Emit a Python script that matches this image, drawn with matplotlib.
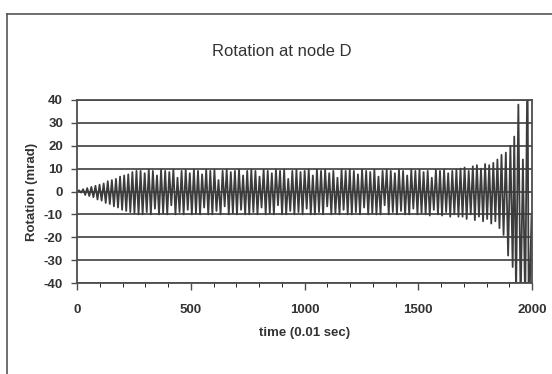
import numpy as np
import matplotlib
matplotlib.use("Agg")
import matplotlib.pyplot as plt
from matplotlib.lines import Line2D

plt.rcParams['font.family'] = ['Liberation Sans', 'DejaVu Sans']
plt.rcParams['axes.unicode_minus'] = False

# positive peaks per cycle (mrad)
top_peaks = [0.5, 1, 1.5, 2, 2.5, 3, 3.5, 4.5, 5, 5.5, 6.5, 7, 7.5, 8.5, 9,
             9, 8, 9.5, 9, 7, 9.5, 9, 8.5, 9.5, 6, 9, 9.5, 8,
             9.5, 9, 7.5, 9.5, 9, 9.5, 5, 9, 9.5, 8.5, 9, 9.5, 7,
             9, 9.5, 9, 6.5, 9.5, 9, 8, 9.5, 9, 9.5, 5.5, 9, 9.5,
             8.5, 9, 9.5, 7, 9.5, 9, 9.5, 8, 9, 6, 9.5, 9, 9.5,
             9, 7.5, 9.5, 9, 8.5, 9.5, 6.5, 9, 9.5, 9, 8, 9.5, 9,
             7, 9.5, 9, 9.5, 8.5, 9, 6, 9.5, 9, 9.5, 8, 9, 9.5,
             10, 10.5, 9, 11, 11.5, 10, 12, 11.5, 12.5, 14, 16]
# negative peaks per cycle (mrad)
bottom_peaks = [-0.5, -1.5, -2, -2.5, -3.5, -4, -5, -5.5, -6.5, -7, -8, -8.5, -9, -9.5, -10,
                -10, -9, -10, -7.5, -10, -9.5, -10, -6, -10, -9, -10, -8, -10,
                -9.5, -10, -7, -10, -10, -8.5, -10, -6.5, -10, -9.5, -10, -8, -10,
                -10, -9, -10, -7, -10, -9.5, -10, -6, -10, -10, -8.5, -10, -9,
                -10, -7.5, -10, -10, -9, -10, -6.5, -10, -9.5, -10, -8, -10, -10,
                -9, -10, -7, -10, -9.5, -10, -10, -6, -10, -9, -10, -8.5, -10,
                -10, -7.5, -10, -9.5, -10, -10.5, -8, -10, -10.5, -9, -11, -10, -11,
                -11, -12, -10, -12.5, -11, -13, -12, -14, -13, -16, -19]
main_end = 1875

# final unstable cycles (time, rotation)
tail_time = [1885, 1895, 1905, 1915, 1922, 1930, 1940, 1950, 1960, 1970, 1980, 1986, 1998]
tail_rot = [17, -28, 20, -33, 24, -45, 38, -50, 14, -50, 60, -60, -10]

rot = [0.0]
for a, b in zip(top_peaks, bottom_peaks):
    rot += [a, b]
time = list(np.linspace(0, main_end, len(rot))) + tail_time
rot = rot + tail_rot

fig = plt.figure(figsize=(5.52, 3.74), dpi=100)
W, H = 552, 374
ax = fig.add_axes([77 / W, 1 - 283 / H, 455 / W, 183 / H])

ax.plot(time, rot, color='#3c3c3c', lw=1.3)

ax.set_xlim(0, 2000)
ax.set_ylim(-40, 40)
ax.set_xticks(np.arange(0, 2001, 500))
ax.set_xticks(np.arange(0, 2001, 100), minor=True)
ax.set_yticks(np.arange(-40, 41, 10))
ax.yaxis.grid(True, color='#4d4d4d', lw=1.3)
ax.set_axisbelow(True)
for s in ax.spines.values():
    s.set_color('#4d4d4d')
    s.set_linewidth(1.3)
ax.tick_params(axis='both', direction='out', color='#4d4d4d', width=1, labelcolor='#333333')
ax.tick_params(axis='y', length=4, pad=6)
ax.tick_params(axis='x', which='major', length=5, pad=10)
ax.tick_params(axis='x', which='minor', length=3)
for lab in ax.get_xticklabels() + ax.get_yticklabels():
    lab.set_fontweight('bold')
    lab.set_fontsize(9.5)

fig.text(282 / W, 1 - 52 / H, 'Rotation at node D', ha='center', va='center',
         fontsize=12, color='#333333')
fig.text(32 / W, 1 - 192 / H, 'Rotation (mrad)', rotation=90, ha='center', va='center',
         fontsize=9.5, fontweight='bold', color='#333333')
fig.text(304.5 / W, 1 - 333 / H, 'time (0.01 sec)', ha='center', va='center',
         fontsize=9.5, fontweight='bold', color='#333333')

# chart-area frame (only left and top edges are inside the scan)
fig.add_artist(Line2D([7 / W, 7 / W], [0, 1 - 14 / H], transform=fig.transFigure,
                      color='#555555', lw=1.2))
fig.add_artist(Line2D([7 / W, 1], [1 - 14 / H, 1 - 14 / H], transform=fig.transFigure,
                      color='#555555', lw=1.2))

fig.savefig('out.png', dpi=100)
